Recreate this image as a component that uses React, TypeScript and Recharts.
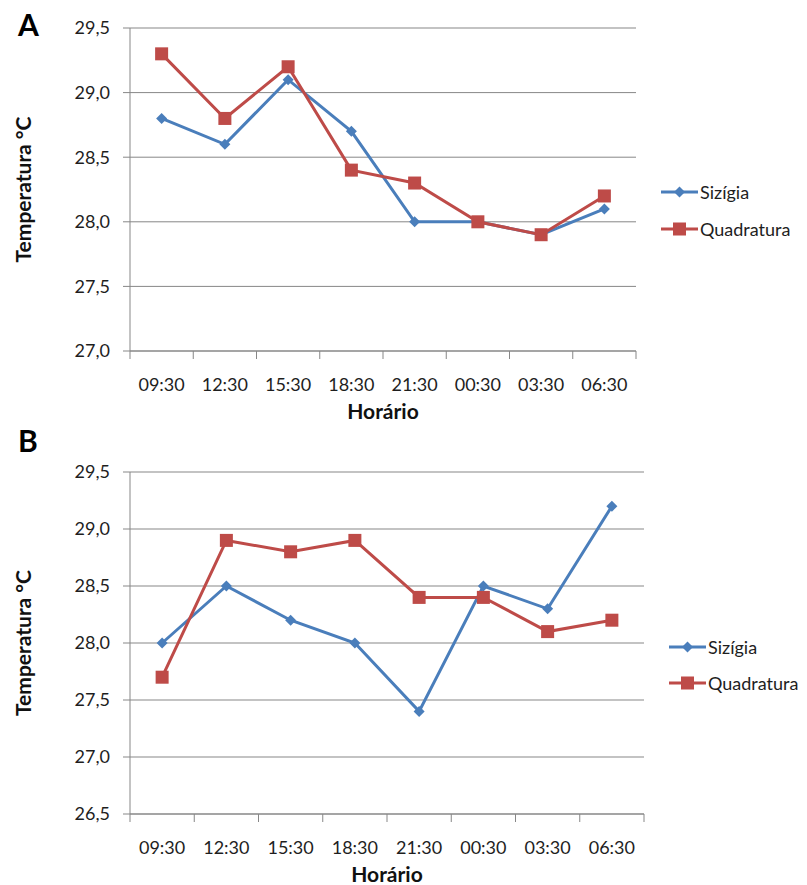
import { LineChart, Line, XAxis, YAxis, CartesianGrid, Legend, Label } from 'recharts';

const horarios = ['09:30', '12:30', '15:30', '18:30', '21:30', '00:30', '03:30', '06:30'];
const series = ['sizigia', 'quadratura'];

// painel A
const sizigiaA = [28.8, 28.6, 29.1, 28.7, 28.0, 28.0, 27.9, 28.1];
const quadraturaA = [29.3, 28.8, 29.2, 28.4, 28.3, 28.0, 27.9, 28.2];
const ticksA = [27, 27.5, 28, 28.5, 29, 29.5];

// painel B
const sizigiaB = [28.0, 28.5, 28.2, 28.0, 27.4, 28.5, 28.3, 29.2];
const quadraturaB = [27.7, 28.9, 28.8, 28.9, 28.4, 28.4, 28.1, 28.2];
const ticksB = [26.5, 27, 27.5, 28, 28.5, 29, 29.5];

const BLUE = '#4A7EBB';
const RED = '#BE4B48';
const GRID = '#878787';
const TEXT = '#1e1e1e';
const FONT = "Lato, 'Open Sans', sans-serif";
const TICK_GAP = 27; // distance from axis line to top of tick label

const fmt = (v: number) => v.toFixed(1).replace('.', ',');

const diamondPath = (cx: number, cy: number, r: number) =>
  `M${cx},${cy - r}L${cx + r},${cy}L${cx},${cy + r}L${cx - r},${cy}Z`;

const diamondDot = (props: any) => {
  const { cx, cy, index } = props;
  if (cx == null || cy == null) return <g key={'d' + index} />;
  return <path key={'d' + index} d={diamondPath(cx, cy, 5.5)} fill={BLUE} />;
};

const squareDot = (props: any) => {
  const { cx, cy, index } = props;
  if (cx == null || cy == null) return <g key={'s' + index} />;
  return <rect key={'s' + index} x={cx - 6.5} y={cy - 6.5} width={13} height={13} fill={RED} />;
};

// category tick: label in the middle of the band, tick marks on the band edges (Excel style)
const catTick = (props: any) => {
  const { x, y, payload, index } = props;
  const half = payload?.offset ?? 0;
  const axisY = y - TICK_GAP;
  return (
    <g>
      <line x1={x - half} x2={x - half} y1={axisY} y2={axisY + 8} stroke={GRID} />
      {index === horarios.length - 1 && (
        <line x1={x + half} x2={x + half} y1={axisY} y2={axisY + 8} stroke={GRID} />
      )}
      <text x={x} y={y} dy="0.71em" textAnchor="middle" fill={TEXT} fontSize={18} fontFamily={FONT}>
        {payload.value}
      </text>
    </g>
  );
};

const makeLegend = (rowHeight: number) => (props: any) => {
  const items = [...(props.payload || [])].sort(
    (a: any, b: any) => series.indexOf(a.dataKey) - series.indexOf(b.dataKey),
  );
  return (
    <div style={{ fontFamily: FONT }}>
      {items.map((entry: any) => (
        <div key={entry.value} style={{ display: 'flex', alignItems: 'center', height: rowHeight }}>
          <svg width={37} height={16}>
            <line x1={0} y1={8} x2={37} y2={8} stroke={entry.color} strokeWidth={3} />
            {entry.dataKey === 'sizigia' ? (
              <path d={diamondPath(18.5, 8, 5.5)} fill={BLUE} />
            ) : (
              <rect x={12} y={1.5} width={13} height={13} fill={RED} />
            )}
          </svg>
          <span style={{ marginLeft: 2, fontSize: 18, color: TEXT }}>{entry.value}</span>
        </div>
      ))}
    </div>
  );
};

interface PainelProps {
  letra: string;
  top: number;
  height: number;
  margin: { top: number; right: number; left: number; bottom: number };
  domain: [number, number];
  ticks: number[];
  sizigia: number[];
  quadratura: number[];
  legendLeft: number;
  legendTop: number;
  legendRow: number;
  letraTop: number;
}

function Painel(p: PainelProps) {
  const data = horarios.map((h, i) => ({ horario: h, sizigia: p.sizigia[i], quadratura: p.quadratura[i] }));
  return (
    <div style={{ position: 'absolute', left: 0, top: p.top, width: 807, height: p.height }}>
      <div
        style={{
          position: 'absolute',
          left: 18,
          top: p.letraTop,
          fontFamily: FONT,
          fontWeight: 700,
          fontSize: 30,
          lineHeight: '30px',
          color: '#000',
          zIndex: 2,
        }}
      >
        {p.letra}
      </div>
      <LineChart width={807} height={p.height} data={data} margin={p.margin}>
        <CartesianGrid vertical={false} stroke={GRID} />
        <XAxis
          dataKey="horario"
          scale="band"
          stroke={GRID}
          tickLine={false}
          interval={0}
          height={60}
          tickSize={0}
          tickMargin={TICK_GAP}
          tick={catTick}
        >
          <Label value="Horário" position="insideTop" offset={53} fontSize={21} fontWeight={700} fill="#111" fontFamily={FONT} />
        </XAxis>
        <YAxis
          type="number"
          domain={p.domain}
          ticks={p.ticks}
          interval={0}
          allowDataOverflow
          width={130}
          tickSize={7}
          tickMargin={13}
          stroke={GRID}
          tickFormatter={fmt}
          tick={{ fill: TEXT, fontSize: 18, fontFamily: FONT }}
        >
          <Label
            value="Temperatura °C"
            angle={-90}
            position="insideLeft"
            offset={24}
            style={{ textAnchor: 'middle' }}
            fontSize={21}
            fontWeight={700}
            fill="#111"
            fontFamily={FONT}
          />
        </YAxis>
        <Line
          dataKey="sizigia"
          name="Sizígia"
          stroke={BLUE}
          strokeWidth={3}
          dot={diamondDot}
          activeDot={false}
          isAnimationActive={false}
        />
        <Line
          dataKey="quadratura"
          name="Quadratura"
          stroke={RED}
          strokeWidth={3}
          dot={squareDot}
          activeDot={false}
          isAnimationActive={false}
        />
        <Legend
          layout="vertical"
          align="center"
          verticalAlign="middle"
          content={makeLegend(p.legendRow)}
          wrapperStyle={{ left: p.legendLeft, top: p.legendTop, width: 146 }}
        />
      </LineChart>
    </div>
  );
}

export default function App() {
  return (
    <div style={{ position: 'absolute', left: 0, top: 0, width: 807, height: 885, background: '#fff', overflow: 'hidden' }}>
      <Painel
        letra="A"
        top={0}
        height={428}
        margin={{ top: 28, right: 171, left: 0, bottom: 17 }}
        domain={[27, 29.5]}
        ticks={ticksA}
        sizigia={sizigiaA}
        quadratura={quadraturaA}
        legendLeft={661}
        legendTop={173}
        legendRow={37}
        letraTop={9}
      />
      <Painel
        letra="B"
        top={420}
        height={465}
        margin={{ top: 52, right: 163, left: 0, bottom: 11 }}
        domain={[26.5, 29.5]}
        ticks={ticksB}
        sizigia={sizigiaB}
        quadratura={quadraturaB}
        legendLeft={669}
        legendTop={209}
        legendRow={36}
        letraTop={5}
      />
    </div>
  );
}
